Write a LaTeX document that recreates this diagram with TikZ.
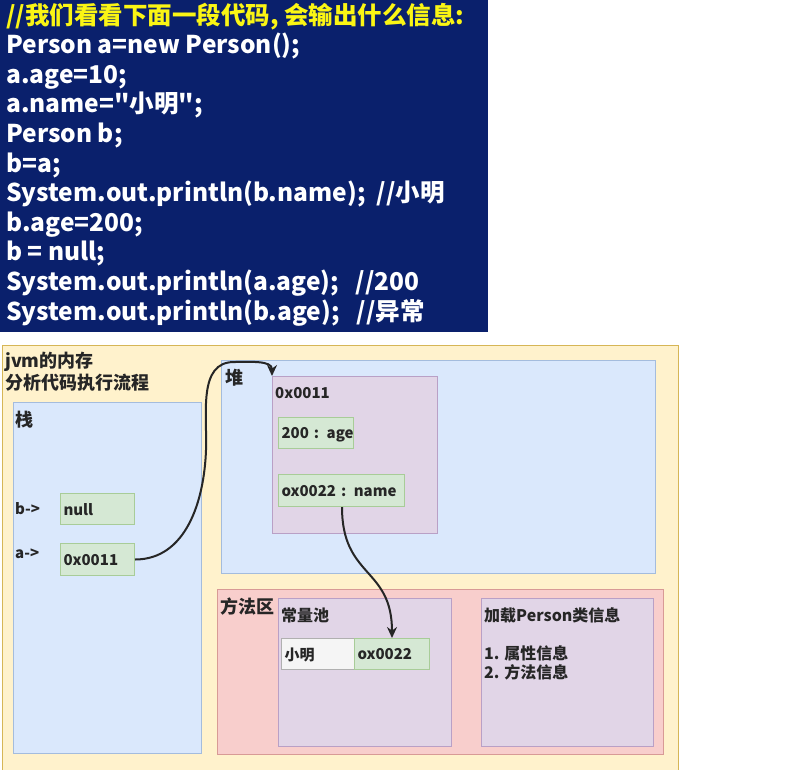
\documentclass[tikz,border=0pt]{standalone}
\usepackage{fontspec}
\setmainfont{Noto Sans CJK SC}
\newfontfamily\codefont{Noto Sans CJK SC}
\usetikzlibrary{arrows.meta}

\definecolor{navy}{RGB}{10,32,108}
\definecolor{titleyellow}{RGB}{250,245,20}
\definecolor{yellowfill}{HTML}{FFF2CC}
\definecolor{yellowline}{HTML}{D6B656}
\definecolor{bluefill}{HTML}{DAE8FC}
\definecolor{blueline}{HTML}{A4BCDD}
\definecolor{greenfill}{HTML}{D5E8D4}
\definecolor{greenline}{HTML}{A8CC98}
\definecolor{purplefill}{HTML}{E1D5E7}
\definecolor{purpleline}{HTML}{B9A0C6}
\definecolor{redfill}{HTML}{F8CECC}
\definecolor{redline}{HTML}{D89A96}
\definecolor{whitefill}{HTML}{F5F5F5}
\definecolor{whiteline}{HTML}{B0B0B0}

\begin{document}
\begin{tikzpicture}[x=1pt,y=-1pt,
	area/.style={draw=#1line,fill=#1fill,line width=1pt,anchor=north west,inner sep=0pt},
	cell/.style={area=#1,font=\bfseries\fontsize{15}{18}\selectfont,text=black!85,align=left,inner xsep=3pt,text depth=0pt},
	lbl/.style={anchor=west,inner sep=0pt,font=\bfseries\fontsize{#1}{#1}\selectfont,text=black!85},
	lbl/.default=18,
	codeline/.style={anchor=base west,inner sep=0pt,text=white,font=\codefont\bfseries\fontsize{24.5}{24.5}\selectfont},
	conn/.style={draw=black!85,line width=2pt,-{Stealth[length=11pt,width=10pt]}}]
		\useasboundingbox (0,0) rectangle (802,769);
		% code
		\fill[navy] (0,0) rectangle (488,332);
		\node[codeline,text=titleyellow] (title) at (6,24) {//我们看看下面一段代码, 会输出什么信息:};
		\foreach \codetext [count=\i] in {{Person a=new Person();},{a.age=10;},{a.name="小明";},{Person b;},{b=a;},
			{System.out.println(b.name);\ \ //小明},{b.age=200;},{b = null;},
			{System.out.println(a.age);\ \ \ //200},{System.out.println(b.age);\ \ \ //异常}}
			\node[codeline] (line\i) at (6,{24+\i*29.6}) {\codetext};
		% jvm
		\node[area=yellow,minimum width=676,minimum height=430] (jvm) at (2,345) {};
		\node[lbl] (jvmlbl) at (5,362) {jvm的内存};
		\node[lbl] (flowlbl) at (5,383) {分析代码执行流程};
		% stack
		\node[area=blue,minimum width=188,minimum height=351] (stack) at (13,402) {};
		\node[lbl] (stacklbl) at (15,420) {栈};
		\node[lbl=15] (blbl) at (15,509) {b->};
		\node[cell=green,text width=68,minimum height=31] (bnull) at (60,493) {null};
		\node[lbl=15] (albl) at (15,554) {a->};
		\node[cell=green,text width=68,minimum height=32] (aref) at (60,543) {0x0011};
		% heap
		\node[area=blue,minimum width=434,minimum height=213] (heap) at (221,360) {};
		\node[lbl] (heaplbl) at (225,378) {堆};
		\node[area=purple,minimum width=165,minimum height=157] (obj) at (272,376) {};
		\node[lbl=15] (objlbl) at (275,393) {0x0011};
		\node[cell=green,text width=69,minimum height=31] (age) at (278,417) {\mbox{200 : age}};
		\node[cell=green,text width=120,minimum height=32] (name) at (278,474) {\mbox{ox0022 : name}};
		% method area
		\node[area=red,minimum width=446,minimum height=165] (method) at (217,589) {};
		\node[lbl] (methodlbl) at (220,607) {方法区};
		\node[area=purple,minimum width=173,minimum height=148] (pool) at (278,598) {};
		\node[lbl=16] (poollbl) at (281,615) {常量池};
		\node[cell=white,text width=67,minimum height=31] (str) at (281,638) {小明};
		\node[cell=green,text width=69,minimum height=31] (strref) at (354,638) {ox0022};
		\node[area=purple,minimum width=172,minimum height=148] (cls) at (481,598) {};
		\node[lbl=16] (clslbl) at (484,615) {加载Person类信息};
		\node[lbl=16] (attrlbl) at (484,653) {1. 属性信息};
		\node[lbl=16] (methlbl) at (484,672) {2. 方法信息};
		% pointers
		\draw[conn] (aref.east) to[out=0,in=-92] (206,450) to[out=88,in=180] (234,362) to[out=0,in=90] (obj.north west);
		\draw[conn] (name.south -| 342,0) to[out=-90,in=90,looseness=1.3] (strref.north);
\end{tikzpicture}
\end{document}
